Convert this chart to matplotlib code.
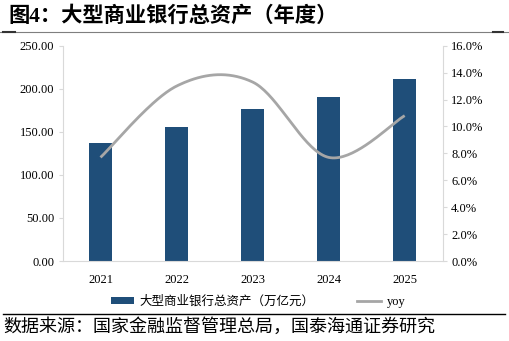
import numpy as np
import matplotlib
matplotlib.use("Agg")
import matplotlib.pyplot as plt
from matplotlib.patches import Patch
from matplotlib.lines import Line2D

years = ["2021", "2022", "2023", "2024", "2025"]
assets = [137.4, 155.2, 176.1, 190.1, 211.0]
yoy = [7.7, 13.0, 13.3, 7.7, 10.8]
left_ticks = [0, 50, 100, 150, 200, 250]
right_ticks = [0, 2, 4, 6, 8, 10, 12, 14, 16]

title = "图4：大型商业银行总资产（年度）"
source = "数据来源：国家金融监督管理总局，国泰海通证券研究"
bar_label = "大型商业银行总资产（万亿元）"
line_label = "yoy"

plt.rcParams['font.family'] = ['Liberation Serif', 'Noto Sans CJK SC']

BAR = '#1F4E79'
LINE = '#A6A6A6'
SPINE = '#D9D9D9'


def catmull_rom(xs, ys, n=40):
    xs = np.asarray(xs, float)
    ys = np.asarray(ys, float)
    px = np.concatenate([[xs[0]], xs, [xs[-1]]])
    py = np.concatenate([[ys[0]], ys, [ys[-1]]])
    ox, oy = [], []
    for i in range(1, len(px) - 2):
        t = np.linspace(0, 1, n)
        for arr, out in ((px, ox), (py, oy)):
            p0, p1, p2, p3 = arr[i - 1], arr[i], arr[i + 1], arr[i + 2]
            out.extend(0.5 * ((2 * p1) + (-p0 + p2) * t +
                              (2 * p0 - 5 * p1 + 4 * p2 - p3) * t ** 2 +
                              (-p0 + 3 * p1 - 3 * p2 + p3) * t ** 3))
    return np.array(ox), np.array(oy)


fig = plt.figure(figsize=(5.09, 3.41), dpi=100)
ax = fig.add_axes([0.1228, 0.2346, 0.747, 0.6314])
x = np.arange(len(years))
ax.bar(x, assets, width=0.30, color=BAR, zorder=2)
ax.set_xlim(-0.5, len(years) - 0.5)
ax.set_ylim(0, 250)
ax.set_yticks(left_ticks)
ax.set_yticklabels([f"{v:.2f}" for v in left_ticks])
ax.set_xticks(x)
ax.set_xticklabels(years)
ax.tick_params(axis='x', length=0, pad=9, labelsize=9)
ax.tick_params(axis='y', length=3, color=SPINE, labelsize=9, pad=3)
for s in ['top', 'right']:
    ax.spines[s].set_visible(False)
for s in ['left', 'bottom']:
    ax.spines[s].set_color(SPINE)

ax2 = ax.twinx()
cx, cy = catmull_rom(x, yoy)
ax2.plot(cx, cy, color=LINE, lw=2.0, solid_capstyle='butt', zorder=3)
ax2.set_ylim(0, 16)
ax2.set_yticks(right_ticks)
ax2.set_yticklabels([f"{v:.1f}%" for v in right_ticks])
ax2.tick_params(axis='y', length=3, color=SPINE, labelsize=9, pad=3)
for s in ['top', 'left', 'bottom']:
    ax2.spines[s].set_visible(False)
ax2.spines['right'].set_color(SPINE)

handles = [Patch(facecolor=BAR, edgecolor='none'),
           Line2D([0], [0], color=LINE, lw=2.0)]
fig.legend(handles, [bar_label, line_label], loc='center',
           bbox_to_anchor=(258 / 509, 1 - 301.7 / 341), ncol=2, frameon=False,
           fontsize=9, handlelength=1.9, handleheight=0.45, handletextpad=0.45,
           columnspacing=3.4)

fig.text(8 / 509, 1 - 17 / 341, title, fontsize=15.3, fontweight='bold',
         va='center', ha='left')
fig.add_artist(Line2D([0, 1], [1 - 31.7 / 341] * 2, color='#7F7F7F', lw=0.8))
fig.add_artist(Line2D([3 / 509, 15 / 509], [1 - 31.7 / 341] * 2, color='#333333', lw=1.5))
fig.add_artist(Line2D([493 / 509, 503 / 509], [1 - 31.7 / 341] * 2, color='#333333', lw=1.5))
fig.add_artist(Line2D([3 / 509, 505 / 509], [1 - 314 / 341] * 2, color='black', lw=1.0))
fig.text(3 / 509, 1 - 327 / 341, source, fontsize=13, va='center', ha='left')

fig.savefig("out.png", dpi=100)
